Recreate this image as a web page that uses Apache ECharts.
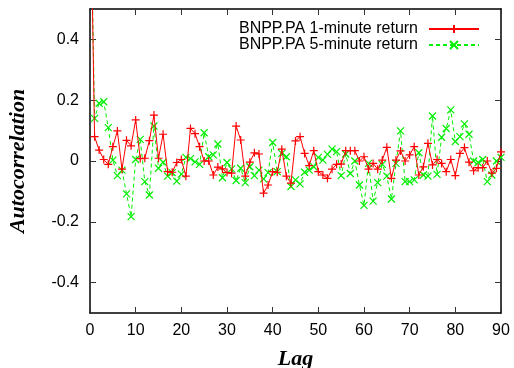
<!DOCTYPE html>
<html>
<head>
<meta charset="utf-8">
<script src="https://cdn.jsdelivr.net/npm/echarts@6/dist/echarts.min.js"></script>
<style>
  html, body { margin: 0; padding: 0; background: #fff; }
  #chart { width: 514px; height: 368px; }
</style>
</head>
<body>
<div id="chart"></div>
<script>
// lag 0..90
var lags = [];
for (var i = 0; i <= 90; i++) lags.push(i);

var yTicks = [-0.4, -0.2, 0, 0.2, 0.4];

var oneMinute = [
  1.0, 0.080, 0.036, 0.005, -0.011, 0.047, 0.099, -0.027, 0.068, 0.050,
  0.135, 0.008, 0.009, 0.067, 0.151, 0.009, 0.088, -0.035, -0.037, -0.005,
  0.005, -0.050, 0.107, 0.090, 0.047, 0.000, 0.000, -0.046, -0.020, -0.026,
  -0.038, -0.040, 0.115, 0.069, -0.050, -0.004, 0.027, 0.023, -0.106, -0.079,
  -0.035, -0.037, 0.039, -0.050, -0.073, 0.066, 0.080, 0.025, -0.015, 0.034,
  -0.035, -0.046, -0.057, -0.027, -0.011, -0.010, 0.034, 0.034, 0.034, 0.000,
  0.014, -0.027, -0.008, -0.027, 0.003, 0.045, -0.057, 0.003, 0.033, 0.000,
  0.020, 0.047, -0.046, -0.019, 0.058, -0.013, 0.005, -0.008, -0.035, 0.005,
  -0.048, 0.025, 0.044, -0.004, -0.032, -0.022, -0.022, 0.000, -0.040, -0.024,
  0.030
];

var fiveMinute = [
  1.0, 0.140, 0.190, 0.195, 0.110, 0.003, -0.048, -0.030, -0.108, -0.183,
  0.005, 0.071, -0.068, -0.112, 0.115, -0.024, -0.004, -0.050, -0.038, -0.066,
  -0.043, 0.012, 0.008, -0.003, -0.011, 0.093, 0.014, 0.020, 0.056, -0.055,
  -0.005, -0.026, -0.064, -0.024, -0.071, -0.019, -0.048, -0.030, -0.059, -0.038,
  0.061, -0.035, 0.025, 0.014, -0.084, -0.062, -0.075, -0.037, -0.030, -0.019,
  0.012, 0.003, 0.022, 0.039, 0.031, -0.048, 0.023, -0.041, 0.000, -0.079,
  -0.146, -0.008, -0.132, -0.071, -0.011, -0.050, -0.125, -0.008, 0.099, -0.068,
  -0.068, -0.062, 0.027, -0.046, -0.050, 0.148, -0.044, 0.078, 0.107, 0.168,
  0.064, 0.080, 0.122, 0.088, 0.000, -0.005, 0.005, -0.068, -0.046, 0.000,
  0.012
];

var seriesNames = ['BNPP.PA 1-minute return', 'BNPP.PA 5-minute return'];

function pairs(vals) {
  return lags.map(function (l, i) { return [l, vals[i]]; });
}

var plusPath = 'path://M0,5L10,5M5,0L5,10';
var crossPath = 'path://M0,0L10,10M10,0L0,10';

var labelFont = { color: '#000', fontFamily: 'Liberation Sans', fontSize: 16 };
var nameFont = {
  color: '#000', fontFamily: 'Liberation Serif', fontSize: 22,
  fontWeight: 'bold', fontStyle: 'italic'
};
var frame = { show: true, onZero: false, lineStyle: { color: '#000', width: 1.5 } };
var tick = { inside: true, length: 6, lineStyle: { color: '#333' } };

var myChart = echarts.init(document.getElementById('chart'));
myChart.setOption({
  animation: false,
  grid: { left: 90, right: 13, top: 9, bottom: 55, outerBoundsMode: 'none', containLabel: false },
  legend: {
    right: 29,
    top: 16,
    orient: 'vertical',
    align: 'right',
    itemWidth: 50,
    itemHeight: 10,
    itemGap: 0,
    textStyle: { color: '#000', fontFamily: 'Liberation Sans', fontSize: 16, padding: [0, 6, 0, 0] },
    data: seriesNames
  },
  xAxis: [{
    type: 'value',
    min: 0, max: 90, interval: 10,
    name: 'Lag', nameLocation: 'middle', nameGap: 35,
    nameTextStyle: nameFont,
    axisLine: frame,
    axisTick: tick,
    axisLabel: Object.assign({ margin: 10 }, labelFont),
    splitLine: { show: false }
  }, {
    type: 'value', position: 'top',
    min: 0, max: 90, interval: 10,
    axisLine: frame,
    axisTick: tick,
    axisLabel: { show: false },
    splitLine: { show: false }
  }],
  yAxis: [{
    type: 'value',
    min: -0.5, max: 0.5,
    name: 'Autocorrelation', nameLocation: 'middle', nameGap: 61, nameRotate: 90,
    nameTextStyle: nameFont,
    axisLine: frame,
    axisTick: Object.assign({ customValues: yTicks }, tick),
    axisLabel: Object.assign({
      margin: 11,
      customValues: yTicks,
      formatter: function (v) {
        var r = Math.round(v * 10) / 10;
        return r === 0 ? '0' : r.toFixed(1);
      }
    }, labelFont),
    splitLine: { show: false }
  }, {
    type: 'value', position: 'right',
    min: -0.5, max: 0.5,
    axisLine: frame,
    axisTick: Object.assign({ customValues: yTicks }, tick),
    axisLabel: { show: false },
    splitLine: { show: false }
  }],
  series: [{
    name: seriesNames[0],
    type: 'line',
    data: pairs(oneMinute),
    symbol: plusPath,
    symbolSize: 8,
    showAllSymbol: true,
    itemStyle: { color: '#ff0000', borderColor: '#ff0000', borderWidth: 1.2 },
    lineStyle: { color: '#ff0000', width: 1 },
    z: 3
  }, {
    name: seriesNames[1],
    type: 'line',
    data: pairs(fiveMinute),
    symbol: crossPath,
    symbolSize: 7,
    showAllSymbol: true,
    itemStyle: { color: '#00ee00', borderColor: '#00ee00', borderWidth: 1.2 },
    lineStyle: { color: '#00ee00', width: 1, type: [4, 3] },
    z: 2
  }]
});
</script>
</body>
</html>
